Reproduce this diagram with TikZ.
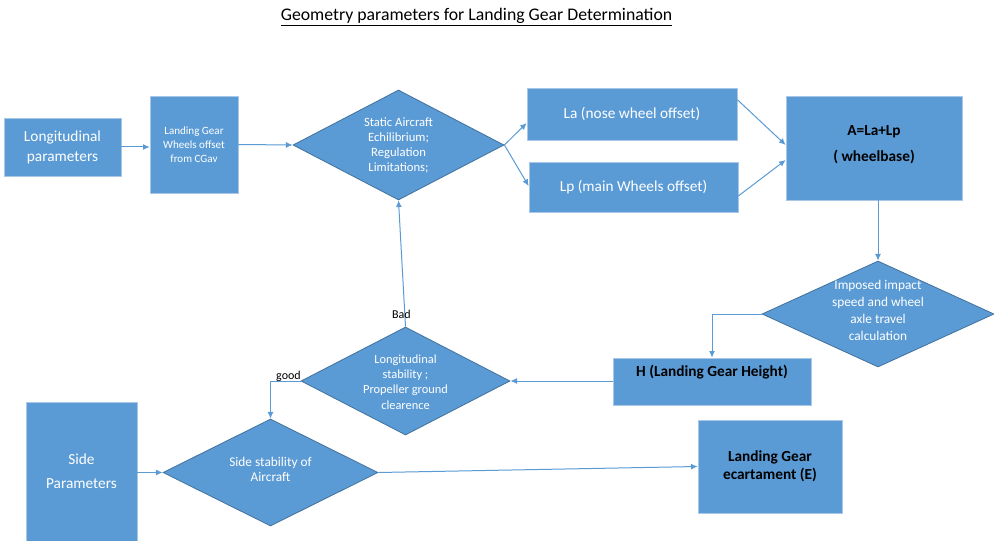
\documentclass[tikz,border=0pt]{standalone}
\usepackage{fontspec}
\setmainfont{Carlito}
\usetikzlibrary{shapes.geometric,arrows.meta}
\definecolor{boxblue}{HTML}{5B9BD5}
\definecolor{boxedge}{HTML}{A9C8E8}
\definecolor{diaedge}{HTML}{41719C}
\newcommand\pxu{0.75pt}
\tikzset{
  box/.style={rectangle, fill=boxblue, draw=boxedge, line width=0.5pt, inner sep=0pt, text=white, align=center},
  dia/.style={diamond, fill=boxblue, draw=diaedge, line width=0.6pt, inner sep=0pt},
  dtext/.style={text=white, align=center, inner sep=0pt},
  conn/.style={draw=boxblue, line width=0.75pt, -{Latex[length=5pt,width=4.5pt]}},
  lbl/.style={text=black, inner sep=0pt, font=\fontsize{9}{10}\selectfont},
}
\begin{document}
\begin{tikzpicture}[x=0.75pt,y=-0.75pt]
\useasboundingbox (0,0) rectangle (994,541);
\fill[white] (0,0) rectangle (994,541);

\node (title) at (476.5,17) {\fontsize{13.3}{15}\selectfont\underline{Geometry parameters for Landing Gear Determination}};

% boxes
\node[box, minimum width=117*\pxu, minimum height=58*\pxu, font=\fontsize{11.5}{15}\selectfont] (lp) at (62.5,147) {Longitudinal\\parameters};
\node[box, minimum width=88*\pxu, minimum height=97*\pxu, font=\fontsize{8.3}{10.5}\selectfont] (lg) at (194,144.5) {Landing Gear\\Wheels offset\\from CGav};
\node[box, minimum width=210*\pxu, minimum height=52*\pxu, font=\fontsize{11.5}{14}\selectfont] (la) at (632,114) {La (nose wheel offset)};
\node[box, minimum width=209*\pxu, minimum height=50*\pxu, font=\fontsize{11.5}{14}\selectfont] (lpm) at (633.5,187) {Lp (main Wheels offset)};
\node[box, minimum width=176*\pxu, minimum height=104*\pxu] (ab) at (874,148) {};
\node[text=black, align=center, inner sep=0pt, font=\bfseries\fontsize{11.5}{19.5}\selectfont] at (874,145) {A=La+Lp\\( wheelbase)};
\node[box, minimum width=198*\pxu, minimum height=47*\pxu] (hb) at (712,381.5) {};
\node[text=black, inner sep=0pt, font=\bfseries\fontsize{11.5}{14}\selectfont] at (712,372) {H (Landing Gear Height)};
\node[box, minimum width=111*\pxu, minimum height=139*\pxu, font=\fontsize{11.5}{18}\selectfont] (sp) at (81.5,471.5) {Side\\Parameters};
\node[box, minimum width=144*\pxu, minimum height=93*\pxu, text=black, font=\bfseries\fontsize{11.5}{13.5}\selectfont] (ec) at (770,466.5) {Landing Gear\\ecartament (E)};

% diamonds
\node[dia, minimum width=211*\pxu, minimum height=110*\pxu] (d1) at (398.5,145) {};
\node[dtext, font=\fontsize{9.5}{11.25}\selectfont] at (398.5,145) {Static Aircraft\\Echilibrium;\\Regulation\\Limitations;};
\node[dia, minimum width=232*\pxu, minimum height=106*\pxu] (d2) at (878,314) {};
\node[dtext, font=\fontsize{10}{12.75}\selectfont] at (878,310.5) {Imposed impact\\speed and wheel\\axle travel\\calculation};
\node[dia, minimum width=209*\pxu, minimum height=108*\pxu] (d3) at (405.5,381) {};
\node[dtext, font=\fontsize{9.3}{11.5}\selectfont] at (405.5,382) {Longitudinal\\stability ;\\Propeller ground\\clearence};
\node[dia, minimum width=215*\pxu, minimum height=107*\pxu] (d4) at (270.5,472.5) {};
\node[dtext, font=\fontsize{10}{11.25}\selectfont] at (270.5,469) {Side stability of\\Aircraft};

% connectors
\draw[conn] (lp.east) -- (lp.east -| lg.west);
\draw[conn] (lg.east) -- (d1.west);
\draw[conn] (d1.east) -- ([yshift=-9*\pxu]la.west);
\draw[conn] (d1.east) -- ([yshift=1*\pxu]lpm.west);
\draw[conn] ([yshift=-12*\pxu]la.north east) -- ([yshift=3*\pxu]ab.west);
\draw[conn] ([yshift=-9*\pxu]lpm.east) -- ([yshift=-12*\pxu]ab.west);
\draw[conn] (d2.north |- ab.south) -- (d2.north);
\draw[conn] (d2.west) -| (hb.north);
\draw[conn] (d3.east -| hb.west) -- (d3.east);
\draw[conn] (d3.north) -- (d1.south);
\draw[conn] (d3.west) -| (d4.north);
\draw[conn] (sp.east |- d4.west) -- (d4.west);
\draw[conn] (d4.east) -- (ec.west);

\node[lbl] (bad) at (401.5,314) {Bad};
\node[lbl] (good) at (288.5,376) {good};
\end{tikzpicture}
\end{document}
